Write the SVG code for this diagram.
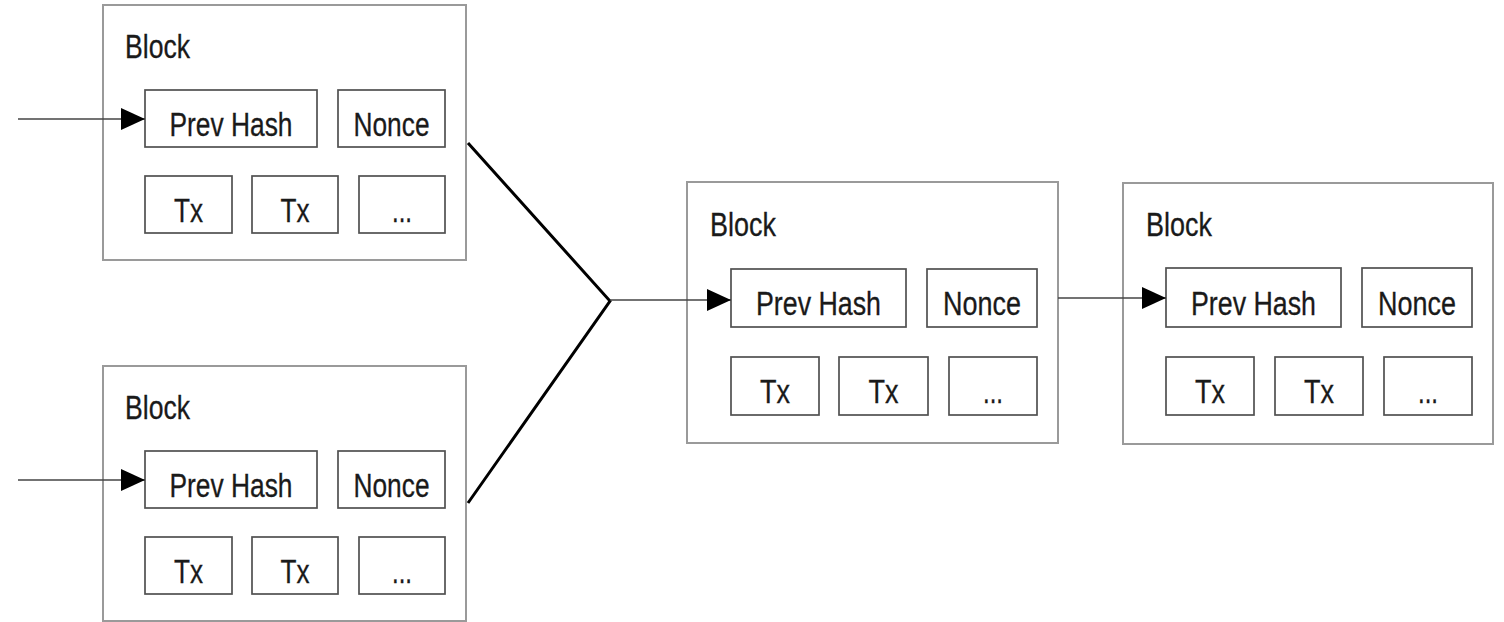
<svg xmlns="http://www.w3.org/2000/svg" width="1504" height="622" viewBox="0 0 1504 622">
<style>
.outer{fill:#fff;stroke:#9a9a9a;stroke-width:2}
.inner{fill:#fff;stroke:#505050;stroke-width:1.7}
.t{font-family:"Liberation Sans",Arial,sans-serif;font-size:33px;fill:#1a1a1a;stroke:#1a1a1a;stroke-width:0.3}
.c{text-anchor:middle}
.ln{stroke:#444;stroke-width:1.6;fill:none}
.j{stroke:#000;stroke-width:3;fill:none}
</style>
<defs>
<marker id="ah" markerUnits="userSpaceOnUse" markerWidth="26" markerHeight="24" refX="24" refY="11" orient="auto">
<path d="M0,0 L24,11 L0,22 z" fill="#000"/>
</marker>
</defs>
<rect width="1504" height="622" fill="#fff"/>
<g id="block1">
<rect class="outer" x="103" y="5" width="363" height="255"/>
<text class="t" x="125" y="58" textLength="65" lengthAdjust="spacingAndGlyphs">Block</text>
<rect class="inner" x="145" y="90" width="172" height="57"/>
<text class="t c" x="231" y="136" textLength="123" lengthAdjust="spacingAndGlyphs">Prev Hash</text>
<rect class="inner" x="338" y="90" width="107" height="57"/>
<text class="t c" x="391.5" y="136" textLength="76" lengthAdjust="spacingAndGlyphs">Nonce</text>
<rect class="inner" x="145" y="176" width="87" height="57"/>
<text class="t c" x="188.5" y="222" textLength="29" lengthAdjust="spacingAndGlyphs">Tx</text>
<rect class="inner" x="252" y="176" width="86" height="57"/>
<text class="t c" x="295" y="222" textLength="29" lengthAdjust="spacingAndGlyphs">Tx</text>
<rect class="inner" x="359" y="176" width="86" height="57"/>
<text class="t c" x="402" y="222" textLength="20" lengthAdjust="spacingAndGlyphs">...</text>
</g>
<g id="block2">
<rect class="outer" x="103" y="366" width="363" height="255"/>
<text class="t" x="125" y="419" textLength="65" lengthAdjust="spacingAndGlyphs">Block</text>
<rect class="inner" x="145" y="451" width="172" height="57"/>
<text class="t c" x="231" y="497" textLength="123" lengthAdjust="spacingAndGlyphs">Prev Hash</text>
<rect class="inner" x="338" y="451" width="107" height="57"/>
<text class="t c" x="391.5" y="497" textLength="76" lengthAdjust="spacingAndGlyphs">Nonce</text>
<rect class="inner" x="145" y="537" width="87" height="57"/>
<text class="t c" x="188.5" y="583" textLength="29" lengthAdjust="spacingAndGlyphs">Tx</text>
<rect class="inner" x="252" y="537" width="86" height="57"/>
<text class="t c" x="295" y="583" textLength="29" lengthAdjust="spacingAndGlyphs">Tx</text>
<rect class="inner" x="359" y="537" width="86" height="57"/>
<text class="t c" x="402" y="583" textLength="20" lengthAdjust="spacingAndGlyphs">...</text>
</g>
<g id="block3">
<rect class="outer" x="687" y="182" width="371" height="261"/>
<text class="t" x="710" y="236" textLength="66" lengthAdjust="spacingAndGlyphs">Block</text>
<rect class="inner" x="731" y="269" width="175" height="58"/>
<text class="t c" x="818.5" y="315" textLength="125" lengthAdjust="spacingAndGlyphs">Prev Hash</text>
<rect class="inner" x="927" y="269" width="110" height="58"/>
<text class="t c" x="982" y="315" textLength="78" lengthAdjust="spacingAndGlyphs">Nonce</text>
<rect class="inner" x="731" y="357" width="88" height="58"/>
<text class="t c" x="775" y="403" textLength="30" lengthAdjust="spacingAndGlyphs">Tx</text>
<rect class="inner" x="839" y="357" width="89" height="58"/>
<text class="t c" x="883.5" y="403" textLength="30" lengthAdjust="spacingAndGlyphs">Tx</text>
<rect class="inner" x="949" y="357" width="88" height="58"/>
<text class="t c" x="993" y="403" textLength="20" lengthAdjust="spacingAndGlyphs">...</text>
</g>
<g id="block4">
<rect class="outer" x="1123" y="183" width="370" height="261"/>
<text class="t" x="1146" y="236" textLength="66" lengthAdjust="spacingAndGlyphs">Block</text>
<rect class="inner" x="1166" y="268" width="175" height="59"/>
<text class="t c" x="1253.5" y="315" textLength="125" lengthAdjust="spacingAndGlyphs">Prev Hash</text>
<rect class="inner" x="1362" y="268" width="110" height="59"/>
<text class="t c" x="1417" y="315" textLength="78" lengthAdjust="spacingAndGlyphs">Nonce</text>
<rect class="inner" x="1166" y="357" width="88" height="58"/>
<text class="t c" x="1210" y="403" textLength="30" lengthAdjust="spacingAndGlyphs">Tx</text>
<rect class="inner" x="1275" y="357" width="88" height="58"/>
<text class="t c" x="1319" y="403" textLength="30" lengthAdjust="spacingAndGlyphs">Tx</text>
<rect class="inner" x="1384" y="357" width="88" height="58"/>
<text class="t c" x="1428" y="403" textLength="20" lengthAdjust="spacingAndGlyphs">...</text>
</g>
<g id="connectors">
<line class="ln" x1="18" y1="119" x2="145" y2="119" marker-end="url(#ah)"/>
<line class="ln" x1="18" y1="480" x2="145" y2="480" marker-end="url(#ah)"/>
<polyline class="j" points="468,143 610,301 468,503"/>
<line class="ln" x1="610" y1="300" x2="731" y2="300" marker-end="url(#ah)"/>
<line class="ln" x1="1058" y1="298" x2="1166" y2="298" marker-end="url(#ah)"/>
</g>
</svg>
